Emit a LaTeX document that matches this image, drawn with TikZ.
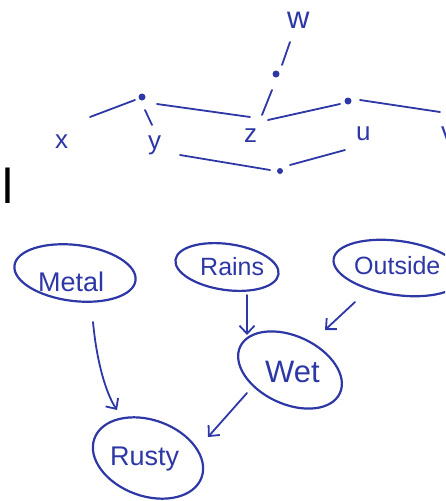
\documentclass[tikz,border=0pt]{standalone}
\usepackage{fontspec}
\setmainfont{Liberation Sans}
\usetikzlibrary{shapes.geometric,arrows.meta,calc}
\definecolor{ink}{RGB}{45,55,165}
\begin{document}
\begin{tikzpicture}[x=1pt,y=-1pt,
  inkline/.style={draw=ink,line width=1.8pt,line cap=round},
  blob/.style={ellipse,draw=ink,line width=2.2pt,inner sep=0pt},
  dot/.style={circle,fill=ink,inner sep=0pt,minimum size=7pt},
  hand/.style={text=ink,inner sep=0pt,anchor=base west},
  arr/.style={inkline,-{Straight Barb[length=8pt,width=15pt]}}
]
\useasboundingbox (0,0) rectangle (445,501);
\clip (0,0) rectangle (445,501);

% cropped black text at the left edge
\node[anchor=base west,inner sep=0pt,font=\fontsize{49}{55}\selectfont] (cut) at (-25.4,203) {el};

% ---------- top sketch graph ----------
\node[dot] (dW) at (276,74) {};
\node[dot] (dY) at (142,97) {};
\node[dot] (dU) at (348,101) {};
\node[dot,minimum size=6pt] (dB) at (280,171) {};

\node[hand,font=\fontsize{31}{36}\selectfont] (lw) at (287,28) {w};
\node[hand,font=\fontsize{26}{30}\selectfont] (lx) at (55,148) {x};
\node[hand,font=\fontsize{26}{30}\selectfont] (ly) at (148,149) {y};
\node[hand,font=\fontsize{26}{30}\selectfont] (lz) at (244,142) {z};
\node[hand,font=\fontsize{26}{30}\selectfont] (lu) at (356,140) {u};
\node[hand,font=\fontsize{26}{30}\selectfont] (lv) at (441,140) {v};

\coordinate (w1) at (290,42);  \coordinate (w2) at (282,65);
\coordinate (z1) at (272,90);  \coordinate (z2) at (262,115);
\coordinate (x1) at (90,117);  \coordinate (x2) at (135,100);
\coordinate (y1) at (157,104); \coordinate (y2) at (250,117);
\coordinate (y3) at (145,110); \coordinate (y4) at (152,125);
\coordinate (u1) at (268,120); \coordinate (u2) at (340,104);
\coordinate (v1) at (360,100); \coordinate (v2) at (440,112);
\coordinate (b1) at (180,155); \coordinate (b2) at (270,170);
\coordinate (b3) at (290,165); \coordinate (b4) at (345,150);

\draw[inkline] (w1) -- (w2);
\draw[inkline] (z1) -- (z2);
\draw[inkline] (x1) -- (x2);
\draw[inkline] (y1) -- (y2);
\draw[inkline] (y3) -- (y4);
\draw[inkline] (u1) -- (u2);
\draw[inkline] (v1) -- (v2);
\draw[inkline] (b1) -- (b2);
\draw[inkline] (b3) -- (b4);

% ---------- Bayes net ----------
\node[blob,minimum width=122pt,minimum height=56pt,rotate=-7] (metal) at (75,273) {};
\node[blob,minimum width=104pt,minimum height=46pt,rotate=-8] (rains) at (227,267) {};
\node[blob,minimum width=130pt,minimum height=54pt,rotate=-8] (outside) at (398,268) {};
\node[blob,minimum width=110pt,minimum height=68pt,rotate=-25] (wet) at (290,370) {};
\node[blob,minimum width=114pt,minimum height=76pt,rotate=-20] (rusty) at (148,458) {};

\node[hand,font=\fontsize{27}{32}\selectfont] (tmetal) at (38,291) {Metal};
\node[hand,font=\fontsize{25}{30}\selectfont] (trains) at (200,275) {Rains};
\node[hand,font=\fontsize{25}{30}\selectfont] (toutside) at (354,274) {Outside};
\node[hand,font=\fontsize{31}{36}\selectfont] (twet) at (265,382) {Wet};
\node[hand,font=\fontsize{27}{32}\selectfont] (trusty) at (110,465) {Rusty};

\draw[arr] ($(metal.center)+(18,49)$) .. controls ($(metal.center)+(22,92)$) and ($(metal.center)+(32,122)$) .. ($(rusty.center)+(-31,-48)$);
\draw[arr] ($(rains.center)+(20,28)$) -- ($(wet.center)+(-43,-35)$);
\draw[arr] ($(outside.center)+(-43,34)$) -- ($(wet.center)+(35,-40)$);
\draw[arr] ($(wet.center)+(-43,23)$) -- ($(rusty.center)+(60,-21)$);
\end{tikzpicture}
\end{document}
